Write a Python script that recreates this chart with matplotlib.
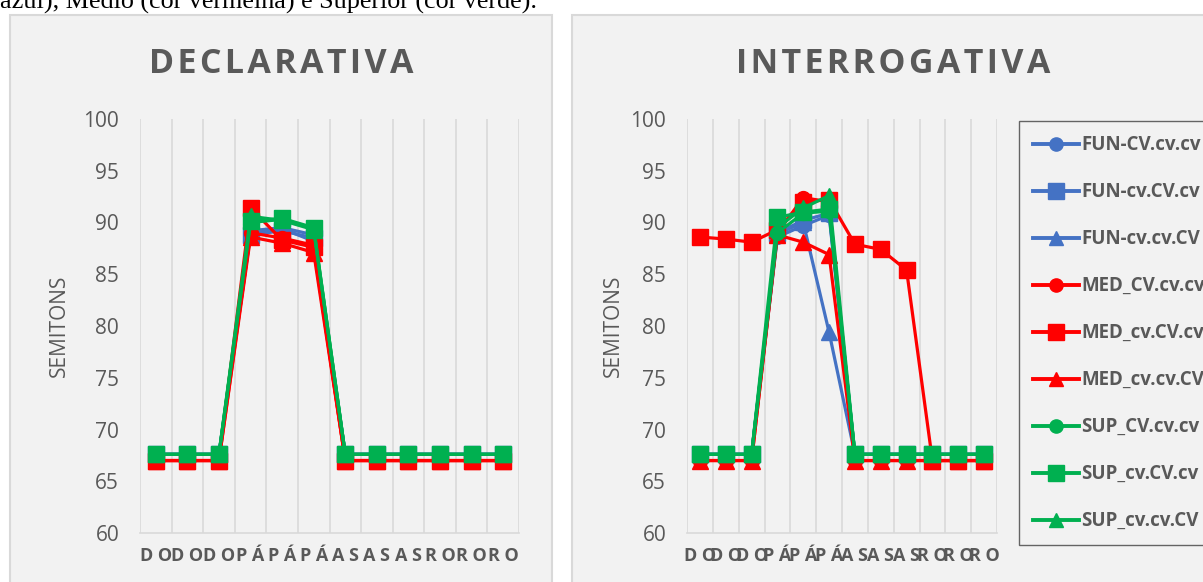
import matplotlib
matplotlib.use("Agg")
import matplotlib.pyplot as plt
from matplotlib.patches import Rectangle
from matplotlib.lines import Line2D

# Syllable categories on the x axis
categories = ["D O", "D O", "D O", "P Á", "P Á", "P Á",
              "A S", "A S", "A S", "R O", "R O", "R O"]

series_names = ["FUN-CV.cv.cv", "FUN-cv.CV.cv", "FUN-cv.cv.CV",
                "MED_CV.cv.cv", "MED_cv.CV.cv", "MED_cv.cv.CV",
                "SUP_CV.cv.cv", "SUP_cv.CV.cv", "SUP_cv.cv.CV"]

# Declarative contours (semitones)
decl_fun_cv1 = [67.6, 67.6, 67.6, 89.2, 89.5, 88.8, 67.6, 67.6, 67.6, 67.6, 67.6, 67.6]
decl_fun_cv2 = [67.6, 67.6, 67.6, 88.8, 89.2, 88.5, 67.6, 67.6, 67.6, 67.6, 67.6, 67.6]
decl_fun_cv3 = [67.6, 67.6, 67.6, 89.0, 89.4, 88.2, 67.6, 67.6, 67.6, 67.6, 67.6, 67.6]
decl_med_cv1 = [67.0, 67.0, 67.0, 89.0, 88.5, 87.8, 67.0, 67.0, 67.0, 67.0, 67.0, 67.0]
decl_med_cv2 = [67.0, 67.0, 67.0, 91.4, 88.3, 87.6, 67.0, 67.0, 67.0, 67.0, 67.0, 67.0]
decl_med_cv3 = [67.0, 67.0, 67.0, 88.6, 88.0, 87.1, 67.0, 67.0, 67.0, 67.0, 67.0, 67.0]
decl_sup_cv1 = [67.6, 67.6, 67.6, 90.0, 90.3, 89.4, 67.6, 67.6, 67.6, 67.6, 67.6, 67.6]
decl_sup_cv2 = [67.6, 67.6, 67.6, 90.1, 90.4, 89.5, 67.6, 67.6, 67.6, 67.6, 67.6, 67.6]
decl_sup_cv3 = [67.6, 67.6, 67.6, 90.6, 90.2, 89.3, 67.6, 67.6, 67.6, 67.6, 67.6, 67.6]

# Interrogative contours (semitones)
int_fun_cv1 = [67.6, 67.6, 67.6, 88.6, 89.7, 90.7, 67.6, 67.6, 67.6, 67.6, 67.6, 67.6]
int_fun_cv2 = [67.6, 67.6, 67.6, 89.0, 90.2, 90.9, 67.6, 67.6, 67.6, 67.6, 67.6, 67.6]
int_fun_cv3 = [67.6, 67.6, 67.6, 88.9, 90.0, 79.4, 67.6, 67.6, 67.6, 67.6, 67.6, 67.6]
int_med_cv1 = [67.0, 67.0, 67.0, 89.0, 92.4, 92.0, 67.0, 67.0, 67.0, 67.0, 67.0, 67.0]
int_med_cv2 = [88.6, 88.4, 88.1, 89.3, 92.0, 92.2, 87.9, 87.4, 85.4, 67.0, 67.0, 67.0]
int_med_cv3 = [67.0, 67.0, 67.0, 88.8, 88.1, 86.9, 67.0, 67.0, 67.0, 67.0, 67.0, 67.0]
int_sup_cv1 = [67.6, 67.6, 67.6, 89.0, 90.9, 91.1, 67.6, 67.6, 67.6, 67.6, 67.6, 67.6]
int_sup_cv2 = [67.6, 67.6, 67.6, 90.5, 91.0, 91.3, 67.6, 67.6, 67.6, 67.6, 67.6, 67.6]
int_sup_cv3 = [67.6, 67.6, 67.6, 89.5, 91.4, 92.6, 67.6, 67.6, 67.6, 67.6, 67.6, 67.6]

decl_values = [decl_fun_cv1, decl_fun_cv2, decl_fun_cv3,
               decl_med_cv1, decl_med_cv2, decl_med_cv3,
               decl_sup_cv1, decl_sup_cv2, decl_sup_cv3]
int_values = [int_fun_cv1, int_fun_cv2, int_fun_cv3,
              int_med_cv1, int_med_cv2, int_med_cv3,
              int_sup_cv1, int_sup_cv2, int_sup_cv3]

yticks = [60, 65, 70, 75, 80, 85, 90, 95, 100]

BLUE, RED, GREEN = "#4472C4", "#FF0000", "#00B050"
colors = [BLUE] * 3 + [RED] * 3 + [GREEN] * 3
markers = ["o", "s", "^"] * 3
msizes = {"o": 10, "s": 12, "^": 11}
TXT = "#595959"
GRID = "#D9D9D9"
PANEL = "#F2F2F2"

W, H = 1203, 582
fig = plt.figure(figsize=(W / 100, H / 100), dpi=100, facecolor="white")


def px(x0, y0, w, h):
    """Pixel box (top-left origin) to figure fraction rectangle."""
    return [x0 / W, 1 - (y0 + h) / H, w / W, h / H]


# caption line cut at the top of the page
fig.text(0, 1 - 9 / H, "azul), Médio (cor vermelha) e Superior (cor verde).",
         family="Liberation Serif", fontsize=18.8, color="black",
         ha="left", va="baseline")

# chart panels
for x0, x1 in [(10, 552), (572, 1215)]:
    fig.patches.append(Rectangle((x0 / W, -0.05), (x1 - x0) / W, 1 - 15 / H + 0.05,
                                 transform=fig.transFigure, facecolor=PANEL,
                                 edgecolor=GRID, linewidth=1.5, zorder=-1))

x = list(range(len(categories)))
HAIR = "\u200a"


def spaced(word):
    return HAIR.join(word)


def draw(ax, values, title, title_x, ylabel_x):
    ax.set_facecolor(PANEL)
    for i in range(len(categories) + 1):
        ax.axvline(i - 0.5, color=GRID, lw=1.2, zorder=0)
    for vals, c, m in zip(values, colors, markers):
        ax.plot(x, vals, color=c, lw=2.3, marker=m, markersize=msizes[m],
                markeredgecolor=c, zorder=2, clip_on=False)
    ax.set_xlim(-0.5, len(categories) - 0.5)
    ax.set_ylim(60, 100)
    ax.set_yticks(yticks)
    ax.set_yticklabels([str(v) for v in yticks], family="Open Sans",
                       fontsize=15, color=TXT)
    ax.set_xticks(x)
    ax.set_xticklabels(categories, family="Open Sans", fontweight="bold",
                       fontsize=13, color=TXT)
    ax.tick_params(axis="both", length=0)
    ax.tick_params(axis="y", pad=15)
    ax.tick_params(axis="x", pad=10)
    for s in ["top", "right", "left"]:
        ax.spines[s].set_visible(False)
    ax.spines["bottom"].set_color(GRID)
    ax.spines["bottom"].set_linewidth(1.2)
    ax.set_ylabel("SEMITONS", family="Open Sans", fontsize=15, color=TXT)
    ax.yaxis.set_label_coords(ylabel_x, 0.5)
    fig.text(title_x / W, 1 - 64 / H, spaced(title),
             family=["Open Sans", "DejaVu Sans"],
             fontweight="bold", fontsize=24.5, color=TXT, ha="center",
             va="center")


ax1 = fig.add_axes(px(140, 119, 379, 414))
draw(ax1, decl_values, "DECLARATIVA", 281, (70 - 140) / 379)

ax2 = fig.add_axes(px(687, 119, 310, 414))
draw(ax2, int_values, "INTERROGATIVA", 893, (624 - 687) / 310)

handles = [Line2D([], [], color=c, lw=2.8, marker=m, markersize=msizes[m] * 0.95,
                  markeredgecolor=c) for c, m in zip(colors, markers)]
leg = fig.legend(handles, series_names, loc="upper left",
                 bbox_to_anchor=(1019 / W, 1 - 121 / H),
                 prop={"family": "Open Sans", "weight": "bold", "size": 13.5},
                 labelspacing=1.44, handlelength=2.45, handletextpad=0.12,
                 borderpad=0.75, frameon=True, fancybox=False,
                 borderaxespad=0)
leg.get_frame().set_edgecolor("#404040")
leg.get_frame().set_linewidth(1.0)
leg.get_frame().set_facecolor(PANEL)
for t in leg.get_texts():
    t.set_color(TXT)

fig.savefig("out.png", dpi=100, facecolor="white")
